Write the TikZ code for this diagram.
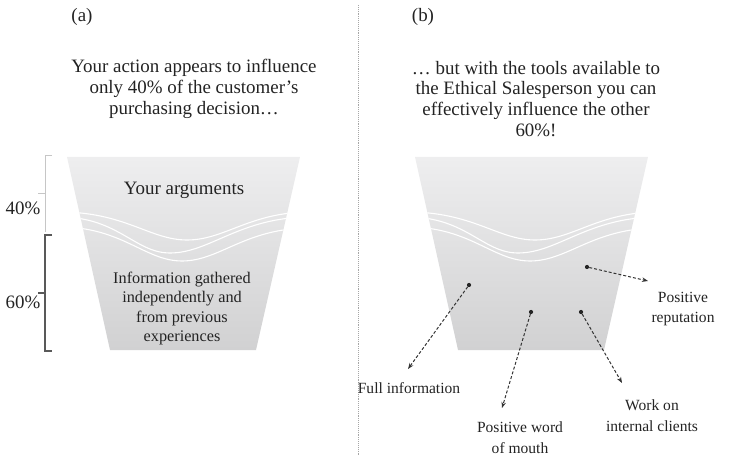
\documentclass[tikz,border=0pt]{standalone}
\usepackage{fontspec}
\setmainfont{Liberation Serif}
\usetikzlibrary{arrows.meta}
\definecolor{ftop}{RGB}{238,238,239}
\definecolor{fbot}{RGB}{209,209,210}
\definecolor{txtc}{RGB}{35,35,35}
\begin{document}
\begin{tikzpicture}[x=1bp,y=-1bp,
  txt/.style={font=\fontsize{19}{21}\selectfont, align=center, inner sep=0, text=txtc},
  info/.style={font=\fontsize{16.3}{19.5}\selectfont, align=center, inner sep=0, text=txtc},
  lbl/.style={font=\fontsize{15.6}{21}\selectfont, align=center, inner sep=0, text=txtc},
  dotn/.style={circle, fill=black!85, inner sep=0, minimum size=4.2bp},
  ptr/.style={densely dashed, black!80, line width=1bp, -{Stealth[length=6bp,width=4.5bp]}},
  wave/.style={white, line width=1.1bp},
  funnel/.style={top color=ftop, bottom color=fbot, draw=none},
  lightbr/.style={gray!45, line width=0.9bp},
  darkbr/.style={black!65, line width=1.3bp},
  sep/.style={gray!70, densely dotted, line width=0.9bp}
]
\useasboundingbox (0,0) rectangle (730,461);

% separator
\coordinate (s1) at (358,5);
\coordinate (s2) at (358,456);
\draw[sep] (s1) -- (s2);

% panel labels
\node[txt] (pa) at (82,17) {(a)};
\node[txt] (pb) at (423,17) {(b)};

% headings
\node[txt] (ta) at (194,89) {Your action appears to influence\\only 40\% of the customer’s\\purchasing decision…};
\node[txt] (tb) at (536,99) {… but with the tools available to\\the Ethical Salesperson you can\\effectively influence the other\\60\%!};

% funnels with waves
\foreach \dx in {0,348} {
  \begin{scope}[xshift=\dx bp]
    \path[funnel] (67,157) -- (300,157) -- (256,350) -- (110,350) -- cycle;
    \begin{scope}
      \clip (67,157) -- (300,157) -- (256,350) -- (110,350) -- cycle;
      \draw[wave] (60,212) .. controls (125,212) and (150,240) .. (187,240) .. controls (225,240) and (250,212) .. (310,212);
      \draw[wave] (60,217) .. controls (118,217) and (135,253) .. (170,253) .. controls (210,253) and (240,217) .. (310,217);
      \draw[wave] (60,227) .. controls (122,227) and (145,261) .. (182,261) .. controls (220,261) and (245,228) .. (310,228);
    \end{scope}
  \end{scope}
}

% left panel texts
\node[txt] (arg) at (184,190) {Your arguments};
\node[info] (inf) at (182,308.5) {Information gathered\\independently and\\from previous\\experiences};

% brackets
\draw[lightbr] (52,155) -- (45,155) -- (45,232);
\draw[lightbr] (38,193) -- (45,193);
\draw[darkbr] (52,235) -- (45,235) -- (45,351) -- (52,351);
\draw[darkbr] (38,293) -- (45,293);
\node[txt] (p40) at (23,208) {40\%};
\node[txt] (p60) at (23,302) {60\%};

% right panel dots and pointers
\node[dotn] (d1) at (469,285) {};
\node[dotn] (d2) at (531,312) {};
\node[dotn] (d3) at (581,312) {};
\node[dotn] (d4) at (587,267) {};
\coordinate (e1) at (408,369);
\coordinate (e2) at (502,408);
\coordinate (e3) at (622,383);
\coordinate (e4) at (648,281);
\draw[ptr] (d1) -- (e1);
\draw[ptr] (d2) -- (e2);
\draw[ptr] (d3) -- (e3);
\draw[ptr] (d4) -- (e4);

\node[lbl] (l1) at (409,388) {Full information};
\node[lbl] (l2) at (520,438) {Positive word\\of mouth};
\node[lbl] (l3) at (652,416) {Work on\\internal clients};
\node[lbl] (l4) at (683,309) {Positive\\reputation};
\end{tikzpicture}
\end{document}
